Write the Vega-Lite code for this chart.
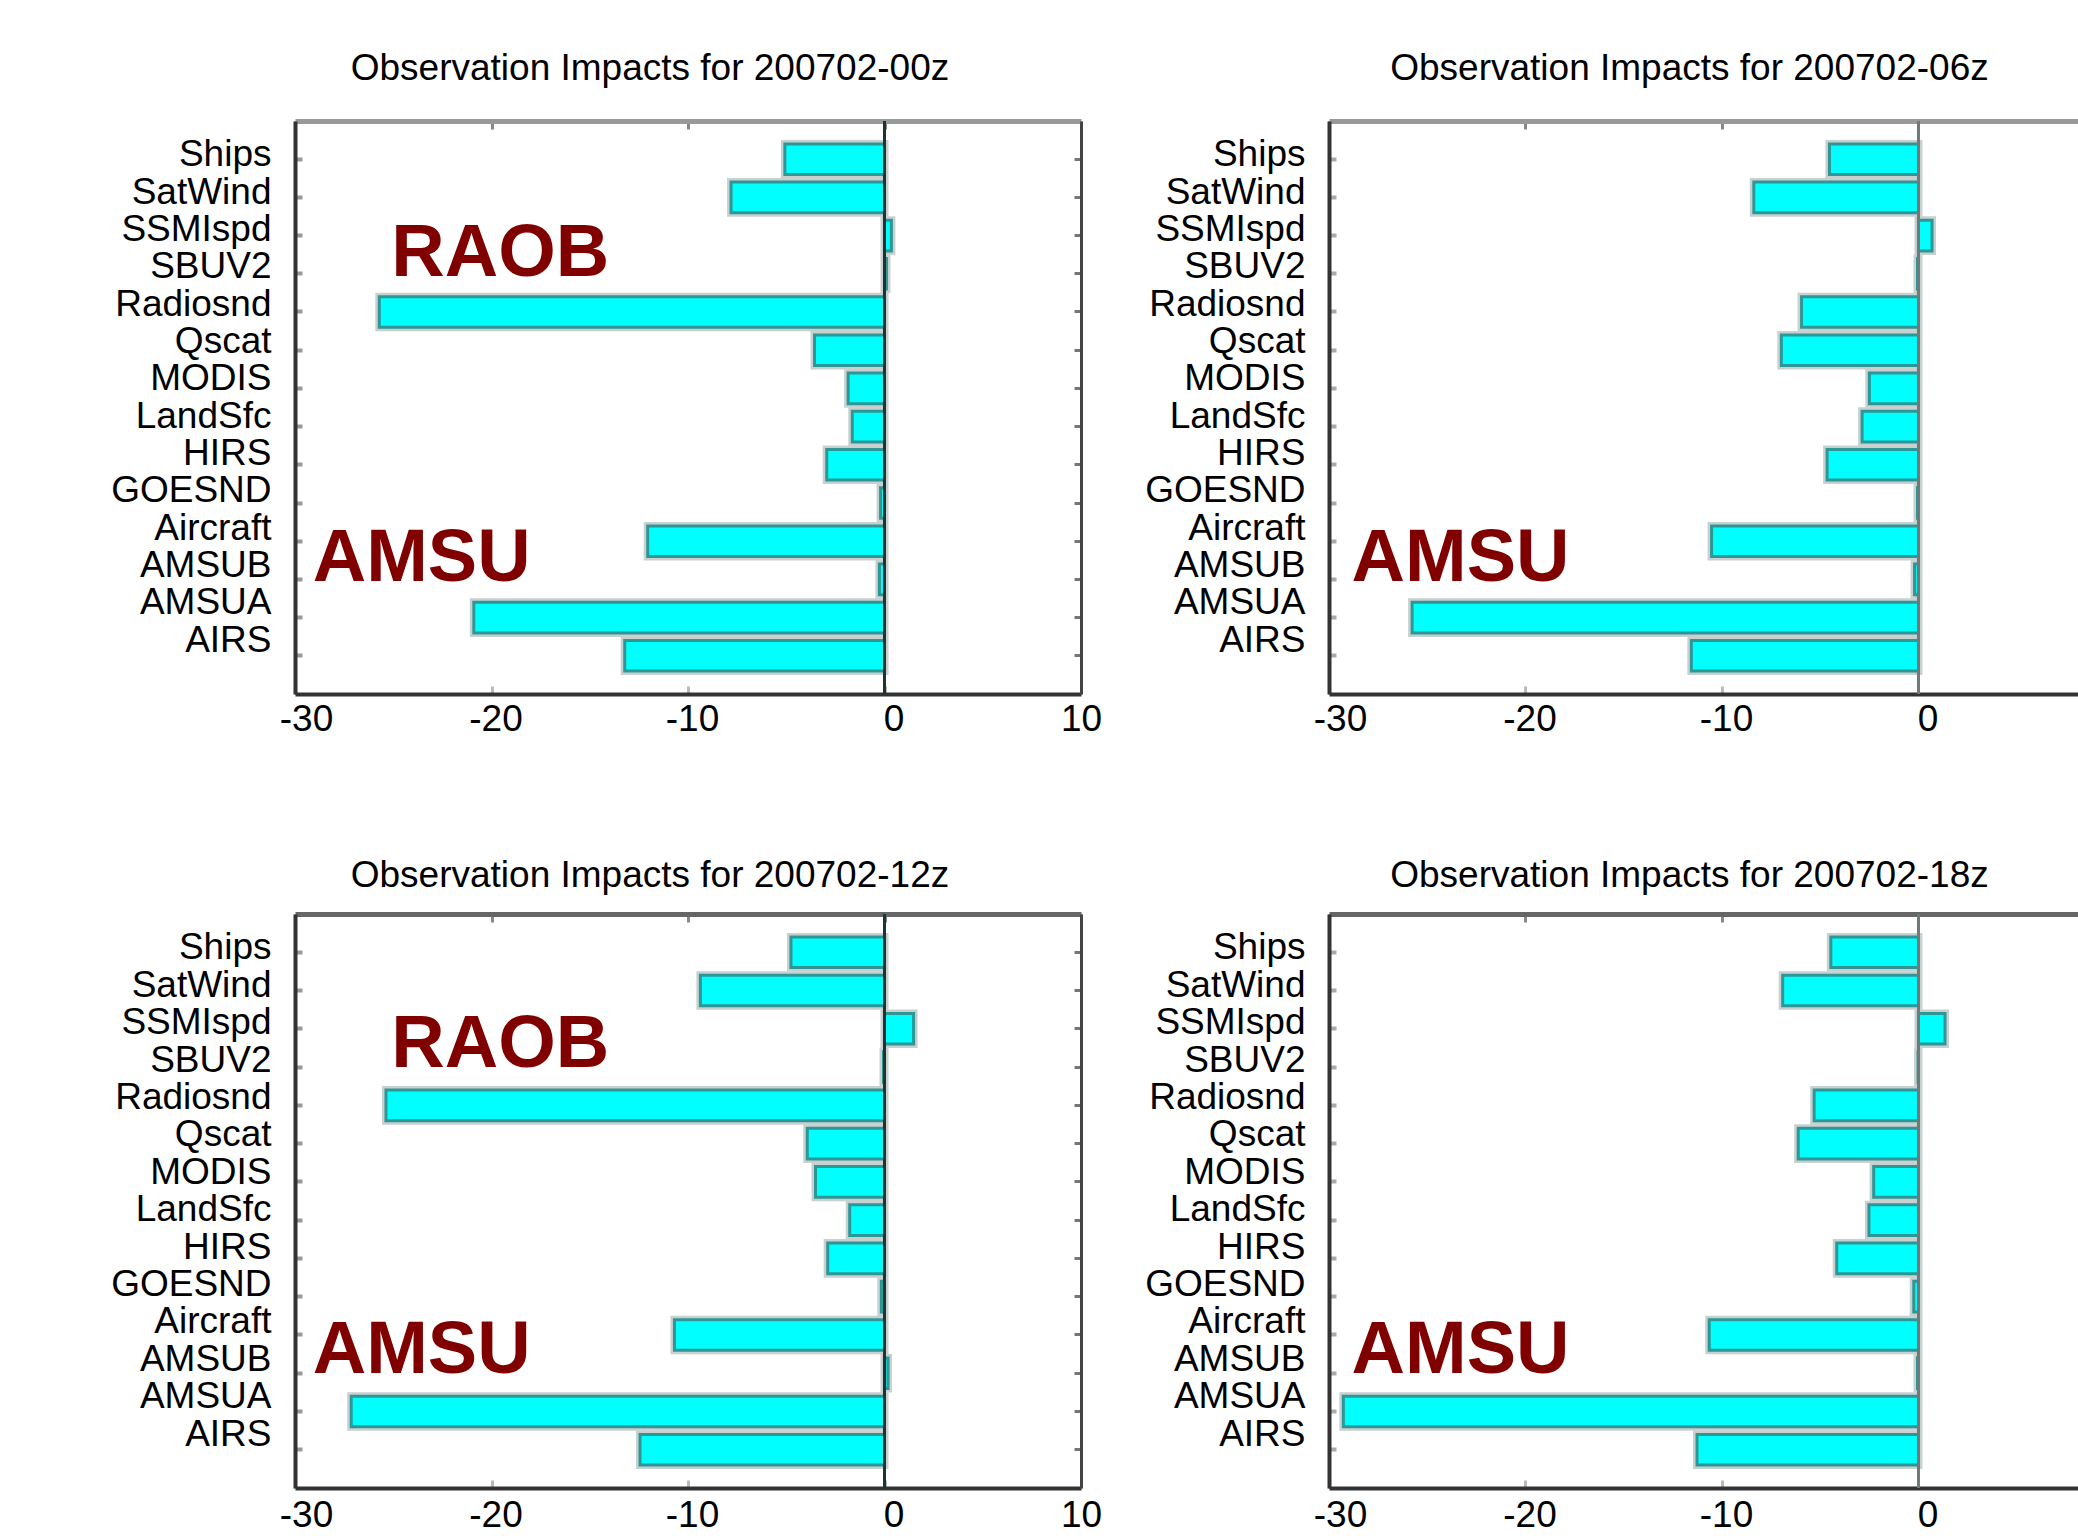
{
  "$schema": "https://vega.github.io/schema/vega-lite/v6.json",
  "padding": {"left": 110, "top": 49, "right": 0, "bottom": 0},
  "background": "white",
  "config": {
    "view": {"stroke": null},
    "font": "Liberation Sans",
    "title": {"font": "Liberation Sans", "fontSize": 37, "fontWeight": "normal", "color": "#000000", "anchor": "middle", "baseline": "alphabetic"}
  },
  "datasets": {
    "impacts": [
      {"time": "00z", "obs": "Ships", "impact": -5.07},
      {"time": "00z", "obs": "SatWind", "impact": -7.81},
      {"time": "00z", "obs": "SSMIspd", "impact": 0.35},
      {"time": "00z", "obs": "SBUV2", "impact": 0.1},
      {"time": "00z", "obs": "Radiosnd", "impact": -25.71},
      {"time": "00z", "obs": "Qscat", "impact": -3.56},
      {"time": "00z", "obs": "MODIS", "impact": -1.85},
      {"time": "00z", "obs": "LandSfc", "impact": -1.64},
      {"time": "00z", "obs": "HIRS", "impact": -2.94},
      {"time": "00z", "obs": "GOESND", "impact": -0.2},
      {"time": "00z", "obs": "Aircraft", "impact": -12.05},
      {"time": "00z", "obs": "AMSUB", "impact": -0.26},
      {"time": "00z", "obs": "AMSUA", "impact": -20.9},
      {"time": "00z", "obs": "AIRS", "impact": -13.22},
      {"time": "06z", "obs": "Ships", "impact": -4.53},
      {"time": "06z", "obs": "SatWind", "impact": -8.38},
      {"time": "06z", "obs": "SSMIspd", "impact": 0.69},
      {"time": "06z", "obs": "SBUV2", "impact": -0.05},
      {"time": "06z", "obs": "Radiosnd", "impact": -5.95},
      {"time": "06z", "obs": "Qscat", "impact": -6.98},
      {"time": "06z", "obs": "MODIS", "impact": -2.5},
      {"time": "06z", "obs": "LandSfc", "impact": -2.87},
      {"time": "06z", "obs": "HIRS", "impact": -4.65},
      {"time": "06z", "obs": "GOESND", "impact": -0.05},
      {"time": "06z", "obs": "Aircraft", "impact": -10.53},
      {"time": "06z", "obs": "AMSUB", "impact": -0.2},
      {"time": "06z", "obs": "AMSUA", "impact": -25.77},
      {"time": "06z", "obs": "AIRS", "impact": -11.56},
      {"time": "12z", "obs": "Ships", "impact": -4.76},
      {"time": "12z", "obs": "SatWind", "impact": -9.37},
      {"time": "12z", "obs": "SSMIspd", "impact": 1.48},
      {"time": "12z", "obs": "SBUV2", "impact": -0.05},
      {"time": "12z", "obs": "Radiosnd", "impact": -25.37},
      {"time": "12z", "obs": "Qscat", "impact": -3.93},
      {"time": "12z", "obs": "MODIS", "impact": -3.51},
      {"time": "12z", "obs": "LandSfc", "impact": -1.77},
      {"time": "12z", "obs": "HIRS", "impact": -2.89},
      {"time": "12z", "obs": "GOESND", "impact": -0.16},
      {"time": "12z", "obs": "Aircraft", "impact": -10.69},
      {"time": "12z", "obs": "AMSUB", "impact": 0.18},
      {"time": "12z", "obs": "AMSUA", "impact": -27.14},
      {"time": "12z", "obs": "AIRS", "impact": -12.44},
      {"time": "18z", "obs": "Ships", "impact": -4.46},
      {"time": "18z", "obs": "SatWind", "impact": -6.91},
      {"time": "18z", "obs": "SSMIspd", "impact": 1.35},
      {"time": "18z", "obs": "SBUV2", "impact": -0.02},
      {"time": "18z", "obs": "Radiosnd", "impact": -5.31},
      {"time": "18z", "obs": "Qscat", "impact": -6.12},
      {"time": "18z", "obs": "MODIS", "impact": -2.28},
      {"time": "18z", "obs": "LandSfc", "impact": -2.52},
      {"time": "18z", "obs": "HIRS", "impact": -4.16},
      {"time": "18z", "obs": "GOESND", "impact": -0.24},
      {"time": "18z", "obs": "Aircraft", "impact": -10.65},
      {"time": "18z", "obs": "AMSUB", "impact": -0.05},
      {"time": "18z", "obs": "AMSUA", "impact": -29.27},
      {"time": "18z", "obs": "AIRS", "impact": -11.27}
    ]
  },
  "vconcat": [
    {
      "hconcat": [
        {
          "width": 786, "height": 573,
          "title": {"text": "Observation Impacts for 200702-00z", "dx": -38, "offset": 32},
          "data": {"name": "impacts"},
          "transform": [{"filter": "datum.time === '00z'"}],
          "layer": [
            {
              "mark": {"type": "bar", "fill": "#dde3e3", "stroke": "#c8d0d0", "strokeWidth": 8},
              "encoding": {
                "x": {"field": "impact", "type": "quantitative", "scale": {"domain": [-30, 10], "nice": false},
                  "axis": {"orient": "bottom", "title": null, "values": [-30, -20, -10, 0, 10], "labelExpr": "'' + datum.value", "labelOffset": {"expr": "datum.value == -30 ? 11 : datum.value == 0 ? 9 : datum.value == 10 ? 0 : 4"}, "labelFlush": false, "labelFont": "Liberation Sans", "labelFontSize": 37, "labelColor": "#000000", "labelPadding": 15, "grid": false, "domainColor": "#333333", "domainWidth": 4, "tickSize": -8, "tickColor": "#bbbbbb", "tickWidth": 3}},
                "y": {"field": "obs", "type": "nominal",
                  "scale": {"domain": ["Ships", "SatWind", "SSMIspd", "SBUV2", "Radiosnd", "Qscat", "MODIS", "LandSfc", "HIRS", "GOESND", "Aircraft", "AMSUB", "AMSUA", "AIRS"], "paddingInner": 0.2, "paddingOuter": 0.6},
                  "axis": {"orient": "left", "title": null, "labelFont": "Liberation Sans", "labelFontSize": 37, "labelColor": "#000000", "labelPadding": 31, "labelOffset": {"expr": "-4 - 11*datum.index"}, "minExtent": 184, "maxExtent": 184, "domainColor": "#333333", "domainWidth": 4, "tickSize": -7, "tickColor": "#999999", "tickWidth": 4}}
              }
            },
            {
              "mark": {"type": "bar", "fill": "#00ffff", "stroke": "#2f9696", "strokeWidth": 3},
              "encoding": {
                "x": {"field": "impact", "type": "quantitative",
                  "axis": {"orient": "top", "title": null, "labels": false, "values": [-30, -20, -10, 0, 10], "grid": false, "domainColor": "#999999", "domainWidth": 5, "tickSize": -8, "tickColor": "#888888", "tickWidth": 3}},
                "y": {"field": "obs", "type": "nominal",
                  "axis": {"orient": "right", "title": null, "labels": false, "domainColor": "#444444", "domainWidth": 3, "tickSize": -7, "tickColor": "#777777", "tickWidth": 3}}
              }
            },
            {
              "data": {"values": [{"zero": 0}]},
              "mark": {"type": "rule", "color": "#1c3434", "strokeWidth": 3},
              "encoding": {"x": {"field": "zero", "type": "quantitative", "axis": null}}
            },
            {
              "data": {"values": [{"label": "RAOB", "obs": "SBUV2", "at": -25.1}, {"label": "AMSU", "obs": "AMSUB", "at": -29.1}]},
              "mark": {"type": "text", "font": "Liberation Sans", "fontWeight": "bold", "fontSize": 74, "color": "#800000", "align": "left", "baseline": "alphabetic", "dy": 2},
              "encoding": {
                "x": {"field": "at", "type": "quantitative", "axis": null},
                "y": {"field": "obs", "type": "nominal", "axis": null},
                "text": {"field": "label"}
              }
            }
          ],
          "resolve": {"axis": {"x": "independent", "y": "independent"}}
        },
        {
          "width": 751, "height": 573,
          "title": {"text": "Observation Impacts for 200702-06z", "dx": -15, "offset": 32},
          "data": {"name": "impacts"},
          "transform": [{"filter": "datum.time === '06z'"}],
          "layer": [
            {
              "mark": {"type": "bar", "fill": "#dde3e3", "stroke": "#c8d0d0", "strokeWidth": 8},
              "encoding": {
                "x": {"field": "impact", "type": "quantitative", "scale": {"domain": [-30, 8.22], "nice": false},
                  "axis": {"orient": "bottom", "title": null, "values": [-30, -20, -10, 0], "labelExpr": "'' + datum.value", "labelOffset": {"expr": "datum.value == -30 ? 11 : datum.value == 0 ? 9 : 4"}, "labelFlush": false, "labelFont": "Liberation Sans", "labelFontSize": 37, "labelColor": "#000000", "labelPadding": 15, "grid": false, "domainColor": "#333333", "domainWidth": 4, "tickSize": -8, "tickColor": "#bbbbbb", "tickWidth": 3}},
                "y": {"field": "obs", "type": "nominal",
                  "scale": {"domain": ["Ships", "SatWind", "SSMIspd", "SBUV2", "Radiosnd", "Qscat", "MODIS", "LandSfc", "HIRS", "GOESND", "Aircraft", "AMSUB", "AMSUA", "AIRS"], "paddingInner": 0.2, "paddingOuter": 0.6},
                  "axis": {"orient": "left", "title": null, "labelFont": "Liberation Sans", "labelFontSize": 37, "labelColor": "#000000", "labelPadding": 31, "labelOffset": {"expr": "-4 - 11*datum.index"}, "minExtent": 184, "maxExtent": 184, "domainColor": "#333333", "domainWidth": 4, "tickSize": -7, "tickColor": "#aaaaaa", "tickWidth": 4}}
              }
            },
            {
              "mark": {"type": "bar", "fill": "#00ffff", "stroke": "#2f9696", "strokeWidth": 3},
              "encoding": {
                "x": {"field": "impact", "type": "quantitative",
                  "axis": {"orient": "top", "title": null, "labels": false, "values": [-30, -20, -10, 0], "grid": false, "domainColor": "#999999", "domainWidth": 5, "tickSize": -8, "tickColor": "#888888", "tickWidth": 3}},
                "y": {"field": "obs", "type": "nominal", "axis": null}
              }
            },
            {
              "data": {"values": [{"zero": 0}]},
              "mark": {"type": "rule", "color": "#6e7a7a", "strokeWidth": 3},
              "encoding": {"x": {"field": "zero", "type": "quantitative", "axis": null}}
            },
            {
              "data": {"values": [{"label": "AMSU", "obs": "AMSUB", "at": -28.85}]},
              "mark": {"type": "text", "font": "Liberation Sans", "fontWeight": "bold", "fontSize": 74, "color": "#800000", "align": "left", "baseline": "alphabetic", "dy": 2},
              "encoding": {
                "x": {"field": "at", "type": "quantitative", "axis": null},
                "y": {"field": "obs", "type": "nominal", "axis": null},
                "text": {"field": "label"}
              }
            }
          ],
          "resolve": {"axis": {"x": "independent", "y": "independent"}}
        }
      ],
      "spacing": 42
    },
    {
      "hconcat": [
        {
          "width": 786, "height": 574,
          "title": {"text": "Observation Impacts for 200702-12z", "dx": -38, "offset": 18},
          "data": {"name": "impacts"},
          "transform": [{"filter": "datum.time === '12z'"}],
          "layer": [
            {
              "mark": {"type": "bar", "fill": "#dde3e3", "stroke": "#c8d0d0", "strokeWidth": 8},
              "encoding": {
                "x": {"field": "impact", "type": "quantitative", "scale": {"domain": [-30, 10], "nice": false},
                  "axis": {"orient": "bottom", "title": null, "values": [-30, -20, -10, 0, 10], "labelExpr": "'' + datum.value", "labelOffset": {"expr": "datum.value == -30 ? 11 : datum.value == 0 ? 9 : datum.value == 10 ? 0 : 4"}, "labelFlush": false, "labelFont": "Liberation Sans", "labelFontSize": 37, "labelColor": "#000000", "labelPadding": 17, "grid": false, "domainColor": "#333333", "domainWidth": 4, "tickSize": -8, "tickColor": "#bbbbbb", "tickWidth": 3}},
                "y": {"field": "obs", "type": "nominal",
                  "scale": {"domain": ["Ships", "SatWind", "SSMIspd", "SBUV2", "Radiosnd", "Qscat", "MODIS", "LandSfc", "HIRS", "GOESND", "Aircraft", "AMSUB", "AMSUA", "AIRS"], "paddingInner": 0.2, "paddingOuter": 0.6},
                  "axis": {"orient": "left", "title": null, "labelFont": "Liberation Sans", "labelFontSize": 37, "labelColor": "#000000", "labelPadding": 31, "labelOffset": {"expr": "-4 - 11*datum.index"}, "minExtent": 184, "maxExtent": 184, "domainColor": "#333333", "domainWidth": 4, "tickSize": -7, "tickColor": "#999999", "tickWidth": 4}}
              }
            },
            {
              "mark": {"type": "bar", "fill": "#00ffff", "stroke": "#2f9696", "strokeWidth": 3},
              "encoding": {
                "x": {"field": "impact", "type": "quantitative",
                  "axis": {"orient": "top", "title": null, "labels": false, "values": [-30, -20, -10, 0, 10], "grid": false, "domainColor": "#666666", "domainWidth": 5, "tickSize": -8, "tickColor": "#888888", "tickWidth": 3}},
                "y": {"field": "obs", "type": "nominal",
                  "axis": {"orient": "right", "title": null, "labels": false, "domainColor": "#444444", "domainWidth": 3, "tickSize": -7, "tickColor": "#777777", "tickWidth": 3}}
              }
            },
            {
              "data": {"values": [{"zero": 0}]},
              "mark": {"type": "rule", "color": "#1c3434", "strokeWidth": 3},
              "encoding": {"x": {"field": "zero", "type": "quantitative", "axis": null}}
            },
            {
              "data": {"values": [{"label": "RAOB", "obs": "SBUV2", "at": -25.1}, {"label": "AMSU", "obs": "AMSUB", "at": -29.1}]},
              "mark": {"type": "text", "font": "Liberation Sans", "fontWeight": "bold", "fontSize": 74, "color": "#800000", "align": "left", "baseline": "alphabetic", "dy": 0},
              "encoding": {
                "x": {"field": "at", "type": "quantitative", "axis": null},
                "y": {"field": "obs", "type": "nominal", "axis": null},
                "text": {"field": "label"}
              }
            }
          ],
          "resolve": {"axis": {"x": "independent", "y": "independent"}}
        },
        {
          "width": 751, "height": 574,
          "title": {"text": "Observation Impacts for 200702-18z", "dx": -15, "offset": 18},
          "data": {"name": "impacts"},
          "transform": [{"filter": "datum.time === '18z'"}],
          "layer": [
            {
              "mark": {"type": "bar", "fill": "#dde3e3", "stroke": "#c8d0d0", "strokeWidth": 8},
              "encoding": {
                "x": {"field": "impact", "type": "quantitative", "scale": {"domain": [-30, 8.22], "nice": false},
                  "axis": {"orient": "bottom", "title": null, "values": [-30, -20, -10, 0], "labelExpr": "'' + datum.value", "labelOffset": {"expr": "datum.value == -30 ? 11 : datum.value == 0 ? 9 : 4"}, "labelFlush": false, "labelFont": "Liberation Sans", "labelFontSize": 37, "labelColor": "#000000", "labelPadding": 17, "grid": false, "domainColor": "#333333", "domainWidth": 4, "tickSize": -8, "tickColor": "#bbbbbb", "tickWidth": 3}},
                "y": {"field": "obs", "type": "nominal",
                  "scale": {"domain": ["Ships", "SatWind", "SSMIspd", "SBUV2", "Radiosnd", "Qscat", "MODIS", "LandSfc", "HIRS", "GOESND", "Aircraft", "AMSUB", "AMSUA", "AIRS"], "paddingInner": 0.2, "paddingOuter": 0.6},
                  "axis": {"orient": "left", "title": null, "labelFont": "Liberation Sans", "labelFontSize": 37, "labelColor": "#000000", "labelPadding": 31, "labelOffset": {"expr": "-4 - 11*datum.index"}, "minExtent": 184, "maxExtent": 184, "domainColor": "#333333", "domainWidth": 4, "tickSize": -7, "tickColor": "#aaaaaa", "tickWidth": 4}}
              }
            },
            {
              "mark": {"type": "bar", "fill": "#00ffff", "stroke": "#2f9696", "strokeWidth": 3},
              "encoding": {
                "x": {"field": "impact", "type": "quantitative",
                  "axis": {"orient": "top", "title": null, "labels": false, "values": [-30, -20, -10, 0], "grid": false, "domainColor": "#666666", "domainWidth": 5, "tickSize": -8, "tickColor": "#888888", "tickWidth": 3}},
                "y": {"field": "obs", "type": "nominal", "axis": null}
              }
            },
            {
              "data": {"values": [{"zero": 0}]},
              "mark": {"type": "rule", "color": "#6e7a7a", "strokeWidth": 3},
              "encoding": {"x": {"field": "zero", "type": "quantitative", "axis": null}}
            },
            {
              "data": {"values": [{"label": "AMSU", "obs": "AMSUB", "at": -28.85}]},
              "mark": {"type": "text", "font": "Liberation Sans", "fontWeight": "bold", "fontSize": 74, "color": "#800000", "align": "left", "baseline": "alphabetic", "dy": 0},
              "encoding": {
                "x": {"field": "at", "type": "quantitative", "axis": null},
                "y": {"field": "obs", "type": "nominal", "axis": null},
                "text": {"field": "label"}
              }
            }
          ],
          "resolve": {"axis": {"x": "independent", "y": "independent"}}
        }
      ],
      "spacing": 42
    }
  ],
  "spacing": 119
}
